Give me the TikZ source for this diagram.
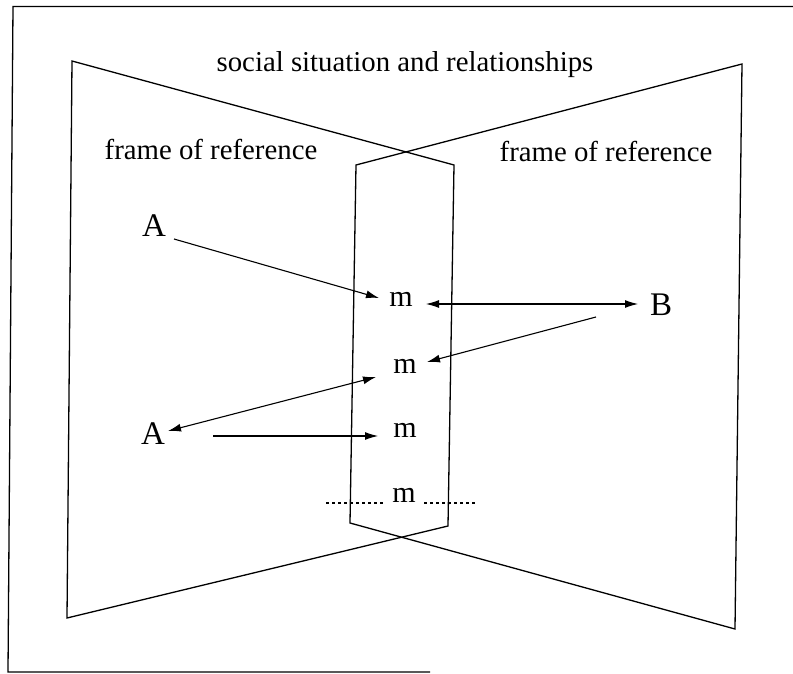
\documentclass[tikz,border=0pt]{standalone}
\usepackage{fontspec}
\setmainfont{Liberation Serif}
\usetikzlibrary{arrows.meta}
\begin{document}
\begin{tikzpicture}[x=1pt,y=-1pt,
  edge/.style={line width=1.3pt, line join=miter},
  conn/.style={line width=1.1pt},
  head/.style={-{Latex[length=13pt,width=8pt]}},
  heads/.style={{Latex[length=13pt,width=8pt]}-{Latex[length=13pt,width=8pt]}},
  dotline/.style={line width=1.1pt, dash pattern=on 3pt off 3pt},
  lbl/.style={inner sep=0pt, font=\fontsize{28.8}{34}\selectfont},
  capital/.style={inner sep=0pt, font=\fontsize{33}{38}\selectfont},
  mm/.style={inner sep=0pt, font=\fontsize{30}{34}\selectfont}]
\useasboundingbox (0,0) rectangle (793,674);
% outer frame
\draw[edge] (793,6.5) -- (13,6.5) -- (8,672) -- (430,672);
% left and right frames of reference
\draw[edge] (72,61) -- (454,165) -- (448,526) -- (67,618) -- cycle;
\draw[edge] (742,64) -- (356,165) -- (350,523) -- (735,629) -- cycle;
% texts
\node[lbl] (title) at (405,65) {social situation and relationships};
\node[lbl] (frL) at (211,150) {frame of reference};
\node[lbl] (frR) at (606,152) {frame of reference};
\node[capital] (A1) at (154,226) {A};
\node[capital] (A2) at (153,434) {A};
\node[capital] (B) at (661,305) {B};
\node[mm] (m1) at (401,299) {m};
\node[mm] (m2) at (405,366) {m};
\node[mm] (m3) at (405,430) {m};
\node[mm] (m4) at (404,495) {m};
% connector ends
\coordinate (a1s) at (174,239);
\coordinate (m1w) at (379,298);
\coordinate (m1e) at (426,304);
\coordinate (bw) at (638,304);
\coordinate (bs) at (596,317);
\coordinate (m2e) at (427,362);
\coordinate (a2e) at (168,431);
\coordinate (m2w) at (376,377);
\coordinate (a2s) at (213,436);
\coordinate (m3w) at (378,436);
\coordinate (d1) at (326,503);
\coordinate (d2) at (383,503);
\coordinate (d3) at (424,503);
\coordinate (d4) at (476,503);
% connectors
\draw[conn,head] (a1s) -- (m1w);
\draw[conn,heads] (m1e) -- (bw);
\draw[conn,head] (bs) -- (m2e);
\draw[conn,heads] (a2e) -- (m2w);
\draw[conn,head] (a2s) -- (m3w);
\draw[dotline] (d1) -- (d2);
\draw[dotline] (d3) -- (d4);
\end{tikzpicture}
\end{document}
